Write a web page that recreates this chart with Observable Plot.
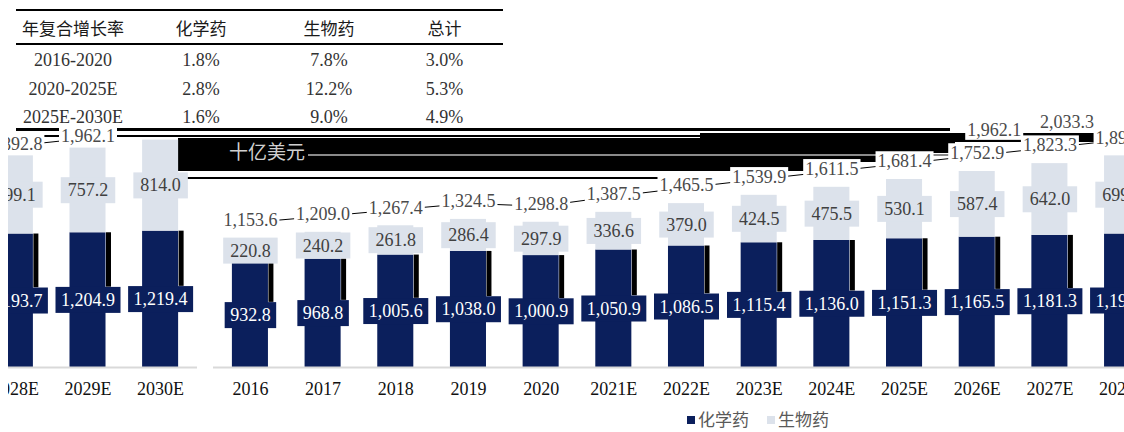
<!DOCTYPE html>
<html>
<head>
<meta charset="utf-8">
<script src="https://cdn.jsdelivr.net/npm/d3@7"></script>
<script src="https://cdn.jsdelivr.net/npm/@observablehq/plot@0.6"></script>
<style>
  html, body { margin: 0; padding: 0; background: #fff; }
  body { width: 1124px; height: 432px; overflow: hidden; position: relative; font-family: "Liberation Serif", serif; }
  .abs { position: absolute; }
  .cell { position: absolute; text-align: center; white-space: nowrap; }
  .hd { font-family: "Noto Sans CJK SC", sans-serif; font-size: 17px; color: #1a1a1a; }
  .num { font-family: "Liberation Serif", serif; font-size: 18px; color: #333; }
  .blk { position: absolute; background: #000; }
  .clip { position: absolute; overflow: hidden; }
  .legend { position: absolute; font-family: "Noto Sans CJK SC", sans-serif; font-size: 17px; color: #595959; white-space: nowrap; }
  .sw { display: inline-block; width: 8px; height: 8px; vertical-align: middle; margin-right: 3px; position: relative; top: -1px; }
</style>
</head>
<body>
<div id="table"></div>
<div id="band"></div>
<div id="leftclip" class="clip" style="left:8px; top:100px; width:189px; height:310px;"></div>
<div id="mainclip" class="clip" style="left:0px; top:100px; width:1124px; height:310px;"></div>
<div id="legend" class="legend" style="left:687px; top:406px;"></div>
<script>
// ---------- data ----------
const years = ["2016","2017","2018","2019","2020","2021E","2022E","2023E","2024E","2025E","2026E","2027E","2028E","2029E","2030E"];
const chem  = [932.8, 968.8, 1005.6, 1038.0, 1000.9, 1050.9, 1086.5, 1115.4, 1136.0, 1151.3, 1165.5, 1181.3, 1193.7, 1204.9, 1219.4];
const bio   = [220.8, 240.2, 261.8, 286.4, 297.9, 336.6, 379.0, 424.5, 475.5, 530.1, 587.4, 642.0, 699.1, 757.2, 814.0];
const totals = [1153.6, 1209.0, 1267.4, 1324.5, 1298.8, 1387.5, 1465.5, 1539.9, 1611.5, 1681.4, 1752.9, 1823.3, 1892.8, 1962.1, 2033.3];
const seriesNames = ["化学药", "生物药"];
const unitLabel = "十亿美元";

const cagrHeader = ["年复合增长率", "化学药", "生物药", "总计"];
const cagrPeriods = ["2016-2020", "2020-2025E", "2025E-2030E"];
const cagrChem = ["1.8%", "2.8%", "1.6%"];
const cagrBio = ["7.8%", "12.2%", "9.0%"];
const cagrTotal = ["3.0%", "5.3%", "4.9%"];

// ---------- styles ----------
const NAVY = "#0b1f5c";
const LIGHT = "#dce2eb";
const CHEM_TXT = "#ffffff";
const BIO_TXT = "#404040";
const TOT_TXT = "#4a4a4a";
const fmt = d3.format(",.1f");

// ---------- table ----------
(function () {
  const t = document.getElementById("table");
  const cols = [[16, 114], [130, 142], [272, 114], [386, 117]];
  const rowCenters = [28, 60, 89, 117];
  const rows = [cagrHeader].concat(cagrPeriods.map((p, i) => [p, cagrChem[i], cagrBio[i], cagrTotal[i]]));
  rows.forEach((r, ri) => {
    r.forEach((v, ci) => {
      const d = document.createElement("div");
      d.className = "cell " + (ri === 0 ? "hd" : "num");
      d.style.left = cols[ci][0] + "px";
      d.style.width = cols[ci][1] + "px";
      d.style.top = (rowCenters[ri] - 12) + "px";
      d.style.height = "24px";
      d.style.lineHeight = "24px";
      d.textContent = v;
      t.appendChild(d);
    });
  });
  const rule = (x, y, w, h) => { const d = document.createElement("div"); d.className = "blk"; Object.assign(d.style, {left: x + "px", top: y + "px", width: w + "px", height: h + "px"}); t.appendChild(d); };
  rule(16, 9, 487, 2);
  rule(16, 43, 487, 1.5);
  rule(16, 128, 934, 3);
})();

// ---------- black band with unit label ----------
(function () {
  const b = document.getElementById("band");
  const blk = (x, y, w, h, c) => { const d = document.createElement("div"); d.className = "blk"; Object.assign(d.style, {left: x + "px", top: y + "px", width: w + "px", height: h + "px"}); if (c) d.style.background = c; b.appendChild(d); };
  blk(16, 135, 1108, 2);
  blk(178, 138, 777, 15);
  blk(700, 133, 410, 5);
  blk(955, 137, 155, 5);
  blk(178, 153, 704, 9);
  blk(178, 162, 630, 9);
  blk(178, 177, 489, 2);
  blk(308, 154, 647, 1.5, "#8a8a8a");
  const u = document.createElement("div");
  u.className = "abs";
  Object.assign(u.style, {left: "229px", top: "139px", fontFamily: '"Noto Sans CJK SC", sans-serif', fontSize: "19px", lineHeight: "24px", color: "#d0d0d0"});
  u.textContent = unitLabel;
  b.appendChild(u);
})();

// ---------- chart ----------
const wide = years.map((y, i) => ({year: y, chem: chem[i], bio: bio[i], total: totals[i]}));
const long = [];
wide.forEach(d => { long.push({year: d.year, type: seriesNames[0], value: d.chem}); long.push({year: d.year, type: seriesNames[1], value: d.bio}); });

function boxLabels(svg, fillAttr, boxFill, px, py) {
  svg.querySelectorAll(`g[fill="${fillAttr}"] text`).forEach(t => {
    const bb = t.getBBox();
    const r = document.createElementNS("http://www.w3.org/2000/svg", "rect");
    r.setAttribute("x", bb.x - px);
    r.setAttribute("y", bb.y - py);
    r.setAttribute("width", bb.width + 2 * px);
    r.setAttribute("height", bb.height + 2 * py);
    r.setAttribute("fill", boxFill);
    const tr = t.getAttribute("transform");
    if (tr) r.setAttribute("transform", tr);
    t.parentNode.insertBefore(r, t);
  });
}

function makeChart(domain, width, marginLeft, totalData, totalDy, extra) {
  const sub = wide.filter(d => domain.includes(d.year));
  const subLong = long.filter(d => domain.includes(d.year));
  return Plot.plot({
    width, height: 300,
    marginLeft, marginRight: 0, marginTop: 21, marginBottom: 33,
    style: {background: "transparent", maxWidth: "none", overflow: "visible", fontFamily: '"Liberation Serif", serif', fontSize: "18px"},
    x: {domain, paddingInner: 0.504, paddingOuter: 0.26, align: 0.5, round: false, label: null},
    y: {domain: [0, 2200], axis: null},
    color: {domain: seriesNames, range: [NAVY, LIGHT]},
    marks: [
      Plot.barY(subLong, {x: "year", y: "value", fill: "type", order: seriesNames}),
      Plot.ruleY([0], {stroke: "#d9d9d9", strokeWidth: 2}),
      Plot.ruleX(sub, {x: "year", y1: "chem", y2: d => d.chem / 2 + 116, dx: 20.5, stroke: "#000", strokeWidth: 5}),
      Plot.line(totalData, {x: "year", y: "total", dy: totalDy + 2, stroke: "#000", strokeWidth: 1}),
      Plot.text(sub, {x: "year", y: d => d.chem / 2, text: d => fmt(d.chem), fill: CHEM_TXT}),
      Plot.text(sub, {x: "year", y: d => d.chem + d.bio / 2, text: d => fmt(d.bio), fill: BIO_TXT}),
      Plot.text(totalData, {x: "year", y: "total", dy: totalDy, text: d => fmt(d.total), fill: TOT_TXT}),
      ...extra,
      Plot.axisX({tickSize: 0, tickPadding: 15, fill: "#111", fontSize: 18, label: null})
    ]
  });
}

// main panel: 2016 … 2028E (cut at the right edge); the last two totals echo near 2026E/2027E
const mainDomain = years.slice(0, 13);
const echo = wide.slice(13).map((d, i) => ({year: years[10 + i], total: d.total}));
const mainSvg = makeChart(mainDomain, 1159, 213, wide.slice(0, 13), -18,
  [Plot.text(echo, {x: "year", y: "total", dy: -18, dx: 17, text: d => fmt(d.total), fill: TOT_TXT})]);
mainSvg.style.position = "absolute";
mainSvg.style.left = "0px";
mainSvg.style.top = "0px";
document.getElementById("mainclip").appendChild(mainSvg);

// left panel: 2028E … 2030E
const leftSvg = makeChart(years.slice(12), 219, 0, wide.slice(12, 14), -12, []);
leftSvg.style.position = "absolute";
leftSvg.style.left = "-30px";
leftSvg.style.top = "0px";
document.getElementById("leftclip").appendChild(leftSvg);

[mainSvg, leftSvg].forEach(svg => {
  boxLabels(svg, CHEM_TXT, NAVY, 5.5, 3);
  boxLabels(svg, BIO_TXT, LIGHT, 7, 3);
  boxLabels(svg, TOT_TXT, "#fff", 2, 0);
});

// ---------- legend ----------
(function () {
  const lg = document.getElementById("legend");
  seriesNames.forEach((n, i) => {
    const s = document.createElement("span");
    s.style.marginRight = i === 0 ? "18px" : "0";
    const sw = document.createElement("span");
    sw.className = "sw";
    sw.style.background = [NAVY, LIGHT][i];
    s.appendChild(sw);
    s.appendChild(document.createTextNode(n));
    lg.appendChild(s);
  });
})();
</script>
</body>
</html>
